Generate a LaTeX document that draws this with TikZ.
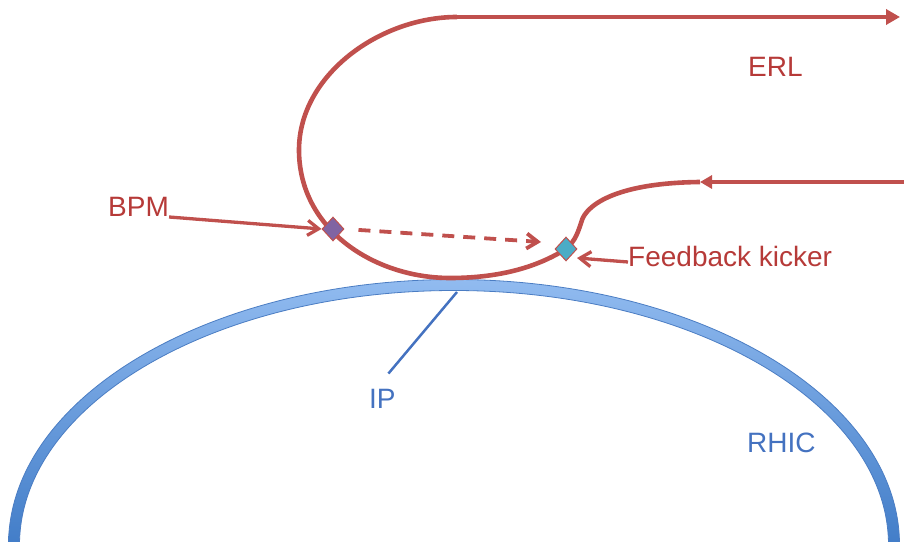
\documentclass[tikz,border=0pt]{standalone}
\usepackage{fontspec}
\setmainfont{Liberation Sans}
\usetikzlibrary{arrows.meta,shapes.geometric}
\definecolor{erlred}{RGB}{192,80,77}
\definecolor{txtred}{RGB}{182,58,56}
\definecolor{rblue}{RGB}{68,114,192}
\definecolor{ringtop}{RGB}{145,187,240}
\definecolor{ringbot}{RGB}{66,125,200}
\definecolor{ringedge}{RGB}{75,125,195}
\definecolor{bpmfill}{RGB}{128,100,162}
\definecolor{kickfill}{RGB}{75,172,198}
\begin{document}
\begin{tikzpicture}[x=1pt,y=1pt,
  beam/.style={draw=erlred,line width=4.6pt},
  pointer/.style={draw=erlred,line width=3.3pt,-{Straight Barb[length=11pt,width=15pt]}},
  lbl/.style={anchor=base west,inner sep=0pt,font=\fontsize{28}{34}\selectfont},
  monitor/.style={diamond,draw=erlred,line width=1pt,minimum width=22pt,minimum height=24pt,inner sep=0pt}]
\useasboundingbox (0,0) rectangle (904,541);
% RHIC ring
\shade[top color=ringtop,bottom color=ringbot,draw=ringedge,line width=0.8pt]
  (8.5,-4) arc[start angle=180,end angle=0,x radius=445.5pt,y radius=265.5pt]
  -- (888.5,-4) arc[start angle=0,end angle=180,x radius=434.5pt,y radius=254.5pt] -- cycle;
% ERL path coordinates
\coordinate (ae) at (900,524);
\coordinate (a1) at (457,524);
\coordinate (a2) at (299,391);
\coordinate (a3) at (450,263);
\coordinate (kc) at (566,292);
\coordinate (s1) at (582,321);
\coordinate (ain) at (700,359);
\coordinate (re) at (904,359);
\draw[beam] (a1) .. controls (380,524) and (299,466) .. (a2)
  .. controls (299,311) and (375,263) .. (a3)
  .. controls (510,263) and (545,279) .. (kc)
  .. controls (576,301) and (578,309) .. (s1)
  .. controls (586,333) and (610,358) .. (ain);
\draw[beam,-{Triangle[length=14pt,width=15pt]}] (a1) -- (ae);
\draw[beam,-{Triangle[length=12pt,width=13pt]}] (re) -- (ain);
% monitors
\node[monitor,fill=bpmfill] (bpm) at (333,312) {};
\node[monitor,fill=kickfill] (kicker) at (kc) {};
% labels
\node[lbl,text=txtred] (erl) at (748,464) {ERL};
\node[lbl,text=txtred] (bpmlbl) at (108,324) {BPM};
\node[lbl,text=txtred] (kicklbl) at (628,274) {Feedback kicker};
\node[lbl,text=rblue] (iplbl) at (369,133) {IP};
\node[lbl,text=rblue] (rhic) at (747,89) {RHIC};
% pointers
\coordinate (kt) at (577,283);
\coordinate (dend) at (541,299);
\coordinate (ip) at (457,249);
\draw[pointer] (bpmlbl.base east) -- (bpm.west);
\draw[pointer] ([yshift=5pt]kicklbl.base west) -- (kt);
\draw[pointer,line width=3.8pt,dash pattern=on 12pt off 9pt,shorten <=14pt] (bpm.east) -- (dend);
\draw[rblue,line width=2.5pt] (iplbl.north) ++(6,15) -- (ip);
\end{tikzpicture}
\end{document}
